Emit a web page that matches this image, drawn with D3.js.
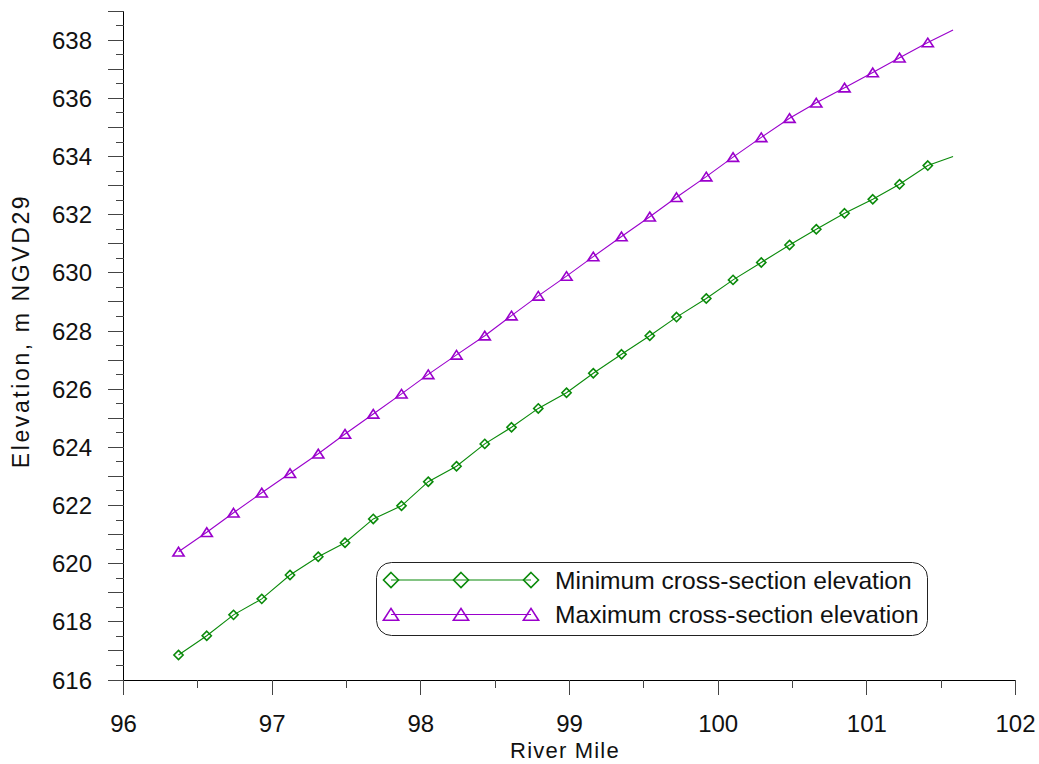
<!DOCTYPE html>
<html lang="en">
<head>
  <meta charset="UTF-8">
  <title>River profile</title>
  <style>
    body { margin: 0; background: #fff; }
    text { font-family: "Liberation Sans", Arial, sans-serif; fill: #111; }
  </style>
</head>
<body>
  <svg id="chart" width="1039" height="764"></svg>
<script src="https://cdn.jsdelivr.net/npm/d3@7"></script>
<script>
  // river mile of each cross-section (last one has no marker)
  let riverMile = [96.37, 96.56, 96.74, 96.93, 97.12, 97.31, 97.49, 97.68, 97.87, 98.05,
                   98.24, 98.43, 98.61, 98.79, 98.98, 99.16, 99.35, 99.54, 99.72, 99.92,
                   100.10, 100.29, 100.48, 100.66, 100.85, 101.04, 101.22, 101.41, 101.58]
  let minElev = [616.86, 617.52, 618.24, 618.79, 619.61, 620.24, 620.72, 621.54, 621.99, 622.82,
                 623.35, 624.12, 624.69, 625.34, 625.88, 626.55, 627.20, 627.84, 628.48, 629.12,
                 629.76, 630.36, 630.96, 631.50, 632.05, 632.53, 633.05, 633.69, 634.00]
  let maxElev = [620.41, 621.08, 621.75, 622.44, 623.11, 623.78, 624.46, 625.15, 625.84, 626.51,
                 627.18, 627.84, 628.53, 629.21, 629.89, 630.56, 631.25, 631.93, 632.60, 633.31,
                 633.98, 634.66, 635.32, 635.85, 636.37, 636.89, 637.40, 637.92, 638.35]
  let seriesNames = ["Minimum cross-section elevation", "Maximum cross-section elevation"]
  let xTicks = [96, 97, 98, 99, 100, 101, 102]
  let yTicks = [616, 618, 620, 622, 624, 626, 628, 630, 632, 634, 636, 638]

  let green = "#0a8a0a"
  let purple = "#9a00cc"

  let svg = d3.select("#chart")
  let x = d3.scaleLinear().domain([96, 102]).range([123.5, 1015.5])
  let y = d3.scaleLinear().domain([616, 639]).range([680, 11.2])

  // axes drawn by hand: ticks every 0.5 with longer ones on whole units
  let axes = svg.append("g").attr("stroke", "#000").attr("shape-rendering", "crispEdges")
  axes.append("line").attr("x1", x(96)).attr("x2", x(96)).attr("y1", y(639)).attr("y2", y(616))
  axes.append("line").attr("x1", x(96)).attr("x2", x(102)).attr("y1", y(616)).attr("y2", y(616))

  axes.selectAll(".ytick").data(d3.range(616, 639.01, 0.5)).enter()
      .append("line")
      .attr("stroke", "#444")
      .attr("x1", d => x(96) - (d % 1 === 0 ? 16 : 8)).attr("x2", x(96))
      .attr("y1", d => y(d)).attr("y2", d => y(d))

  axes.selectAll(".xtick").data(d3.range(96, 102.01, 0.5)).enter()
      .append("line")
      .attr("stroke", "#444")
      .attr("x1", d => x(d)).attr("x2", d => x(d))
      .attr("y1", y(616)).attr("y2", d => y(616) + (d % 1 === 0 ? 15 : 8))

  svg.selectAll(".ylab").data(yTicks).enter()
     .append("text")
     .attr("x", 92).attr("y", d => y(d) + 8.5)
     .attr("text-anchor", "end").attr("font-size", 24)
     .text(d => d)

  svg.selectAll(".xlab").data(xTicks).enter()
     .append("text")
     .attr("x", d => x(d)).attr("y", 731.5)
     .attr("text-anchor", "middle").attr("font-size", 24)
     .text(d => d)

  svg.append("text")
     .attr("x", 565).attr("y", 758)
     .attr("text-anchor", "middle").attr("font-size", 22).attr("letter-spacing", 1.2)
     .text("River Mile")

  svg.append("text")
     .attr("transform", "translate(29,331) rotate(-90)")
     .attr("text-anchor", "middle").attr("font-size", 23).attr("letter-spacing", 2.6)
     .text("Elevation, m NGVD29")

  let diamond = s => `M0,${-s}L${s},0L0,${s}L${-s},0Z`
  let triangle = s => `M0,${-s * 0.8}L${s},${s * 0.75}L${-s},${s * 0.75}Z`

  let series = [
    {name: seriesNames[0], values: minElev, color: green, shape: diamond, size: 4.6},
    {name: seriesNames[1], values: maxElev, color: purple, shape: triangle, size: 5.6}
  ]

  let line = d3.line().x((d, i) => x(riverMile[i])).y(d => y(d))

  series.forEach(s => {
    svg.append("path")
       .attr("d", line(s.values))
       .attr("fill", "none").attr("stroke", s.color).attr("stroke-width", 1.1)

    svg.selectAll(null).data(s.values.slice(0, s.values.length - 1)).enter()
       .append("path")
       .attr("transform", (d, i) => `translate(${x(riverMile[i])},${y(d)})`)
       .attr("d", s.shape(s.size))
       .attr("fill", "none").attr("stroke", s.color).attr("stroke-width", 1.6)
  })

  // legend
  let legend = svg.append("g")
  legend.append("rect")
        .attr("x", 376.5).attr("y", 562.5).attr("width", 551).attr("height", 73)
        .attr("rx", 15).attr("fill", "#fff").attr("stroke", "#222")

  let legendY = [580, 614.5]
  let legendX = [391, 461, 531]
  series.forEach((s, k) => {
    legend.append("line")
          .attr("x1", legendX[0]).attr("x2", legendX[2])
          .attr("y1", legendY[k]).attr("y2", legendY[k])
          .attr("stroke", s.color).attr("stroke-width", 1.1)
    legend.selectAll(null).data(legendX).enter()
          .append("path")
          .attr("transform", d => `translate(${d},${legendY[k]})`)
          .attr("d", s.shape(k === 0 ? 7.5 : 7.6))
          .attr("fill", "none").attr("stroke", s.color).attr("stroke-width", 1.6)
    legend.append("text")
          .attr("x", 555).attr("y", legendY[k] + 8.5)
          .attr("font-size", 24.6)
          .text(s.name)
  })
</script>
</body>
</html>
